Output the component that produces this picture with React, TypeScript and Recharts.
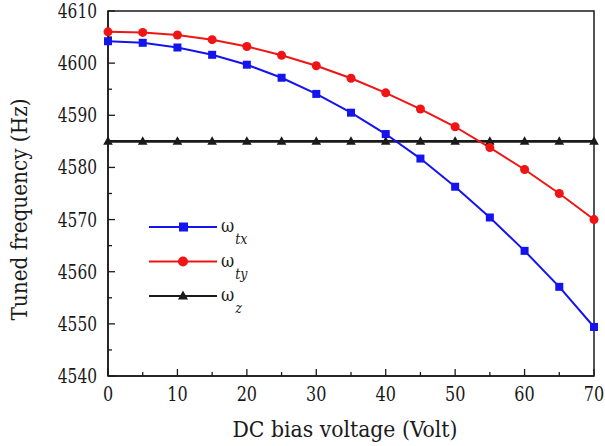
import { LineChart, Line, XAxis, YAxis, Legend, ReferenceArea } from "recharts";

const voltages = [0, 5, 10, 15, 20, 25, 30, 35, 40, 45, 50, 55, 60, 65, 70];
const omegaTx = [4604.2, 4603.9, 4603.0, 4601.6, 4599.7, 4597.2, 4594.1, 4590.5, 4586.4, 4581.7, 4576.3, 4570.4, 4564.0, 4557.1, 4549.4];
const omegaTy = [4606.0, 4605.9, 4605.4, 4604.5, 4603.2, 4601.5, 4599.5, 4597.1, 4594.3, 4591.2, 4587.8, 4583.8, 4579.6, 4575.0, 4570.0];
const omegaZ = [4585, 4585, 4585, 4585, 4585, 4585, 4585, 4585, 4585, 4585, 4585, 4585, 4585, 4585, 4585];
const xTicks = [0, 5, 10, 15, 20, 25, 30, 35, 40, 45, 50, 55, 60, 65, 70];
const yTicks = [4540, 4545, 4550, 4555, 4560, 4565, 4570, 4575, 4580, 4585, 4590, 4595, 4600, 4605, 4610];

const BLUE = "#1414ee";
const RED = "#f01414";
const INK = "#1a1a1a";
// no Times-like face in the sandbox, so DejaVu Serif squeezed to Times widths
const SERIF = "'DejaVu Serif Condensed', 'DejaVu Serif', serif";

const data = voltages.map((v, i) => ({ v, tx: omegaTx[i], ty: omegaTy[i], z: omegaZ[i] }));

const YTick = ({ x, y, payload }: any) => {
	const major = payload.value % 10 === 0;
	const s = String(payload.value);
	return (
		<g>
			<line x1={x} x2={x + (major ? 7 : 4)} y1={y} y2={y} stroke={INK} strokeWidth={1.3} />
			{major && (
				<text x={x - 11} y={y} dy={7} textAnchor="end" fontSize={19.5} fontFamily={SERIF} fill={INK}
					textLength={s.length * 9.8} lengthAdjust="spacingAndGlyphs">
					{s}
				</text>
			)}
		</g>
	);
};

const XTick = ({ x, y, payload }: any) => {
	const major = payload.value % 10 === 0;
	const s = String(payload.value);
	return (
		<g>
			<line x1={x} x2={x} y1={y} y2={y - (major ? 7 : 4)} stroke={INK} strokeWidth={1.3} />
			{major && (
				<text x={x} y={y + 25} textAnchor="middle" fontSize={19.5} fontFamily={SERIF} fill={INK}
					textLength={s.length * 10.2} lengthAdjust="spacingAndGlyphs">
					{s}
				</text>
			)}
		</g>
	);
};

const YLabel = ({ viewBox }: any) => {
	const cx = 27;
	const cy = viewBox.y + viewBox.height / 2 + 16;
	return (
		<text x={cx} y={cy} transform={`rotate(-90 ${cx} ${cy})`} textAnchor="middle" fontSize={23} fontFamily={SERIF} fill={INK}
			textLength={222} lengthAdjust="spacingAndGlyphs">
			Tuned frequency (Hz)
		</text>
	);
};

const XLabel = ({ viewBox }: any) => (
	<text x={viewBox.x + viewBox.width / 2 - 6} y={437} textAnchor="middle" fontSize={23} fontFamily={SERIF} fill={INK}
		textLength={225} lengthAdjust="spacingAndGlyphs">
		DC bias voltage (Volt)
	</text>
);

const square = (color: string) => (p: any) =>
	<rect key={`s${p.index}`} x={p.cx - 4} y={p.cy - 4} width={8} height={8} fill={color} />;
const circle = (color: string) => (p: any) =>
	<circle key={`c${p.index}`} cx={p.cx} cy={p.cy} r={4.5} fill={color} />;
const triangle = (color: string) => (p: any) =>
	<path key={`t${p.index}`} d={`M${p.cx},${p.cy - 5} L${p.cx + 4.8},${p.cy + 3.5} L${p.cx - 4.8},${p.cy + 3.5} Z`} fill={color} />;

const legendItems = [
	{ sub: "tx", color: BLUE, marker: "square" },
	{ sub: "ty", color: RED, marker: "circle" },
	{ sub: "z", color: INK, marker: "triangle" }
];

const LegendBox = () => (
	<svg width={130} height={110}>
		{legendItems.map((it, i) => {
			const y = 22 + i * 34.5;
			return (
				<g key={it.sub}>
					<line x1={9} x2={77} y1={y} y2={y} stroke={it.color} strokeWidth={2.2} />
					{it.marker === "square" && <rect x={39} y={y - 4.5} width={9} height={9} fill={it.color} />}
					{it.marker === "circle" && <circle cx={43} cy={y} r={5} fill={it.color} />}
					{it.marker === "triangle" && <path d={`M43,${y - 5.5} L48,${y + 3.5} L38,${y + 3.5} Z`} fill={it.color} />}
					<text x={81} y={y + 5} fontSize={18} fontFamily={SERIF} fill={INK}>
						ω
						<tspan dx={1} dy={12} fontSize={14} fontStyle="italic">{it.sub}</tspan>
					</text>
				</g>
			);
		})}
	</svg>
);

export default function App() {
	return (
		<div style={{ position: "absolute", left: 0, top: 0, background: "#fff" }}>
			<LineChart width={605} height={446} data={data} margin={{ top: 11, right: 11, left: 0, bottom: 0 }}>
				<XAxis
					dataKey="v"
					type="number"
					domain={[0, 70]}
					ticks={xTicks}
					interval={0}
					height={70}
					tickSize={0}
					tickMargin={0}
					tickLine={false}
					tick={<XTick />}
					axisLine={{ stroke: INK, strokeWidth: 1.5 }}
					label={<XLabel />}
				/>
				<YAxis
					type="number"
					domain={[4540, 4610]}
					ticks={yTicks}
					interval={0}
					width={108}
					tickSize={0}
					tickMargin={0}
					tickLine={false}
					tick={<YTick />}
					axisLine={{ stroke: INK, strokeWidth: 1.5 }}
					label={<YLabel />}
				/>
				<ReferenceArea x1={0} x2={70} y1={4540} y2={4610} fill="none" stroke={INK} strokeWidth={1.5} />
				<Line dataKey="z" stroke={INK} strokeWidth={2.6} dot={triangle(INK)} isAnimationActive={false} />
				<Line dataKey="ty" stroke={RED} strokeWidth={2} dot={circle(RED)} isAnimationActive={false} />
				<Line dataKey="tx" stroke={BLUE} strokeWidth={2} dot={square(BLUE)} isAnimationActive={false} />
				<Legend
					layout="vertical"
					align="center"
					verticalAlign="middle"
					wrapperStyle={{ left: 140, top: 205, width: 130, height: 110 }}
					content={() => <LegendBox />}
				/>
			</LineChart>
		</div>
	);
}
